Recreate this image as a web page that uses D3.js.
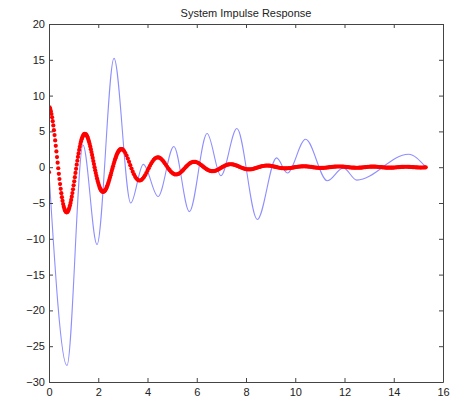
<!DOCTYPE html>
<html>
<head>
<meta charset="utf-8">
<script src="https://cdn.jsdelivr.net/npm/d3@7"></script>
<style>
  html, body { margin: 0; padding: 0; background: #fff; }
  svg { display: block; font-family: "Liberation Sans", Arial, sans-serif; }
</style>
</head>
<body>
<div id="chart"></div>
<script>
// blue line: turning points
const blueT = [0, 0.73, 1.38, 1.95, 2.64, 3.32, 3.83, 4.43, 5.07, 5.7, 6.42, 6.98, 7.63, 8.46, 9.24, 9.68, 10.42, 11.3, 11.95, 12.5, 14.6, 15.28];
const blueV = [-0.8, -27.7, 3.1, -10.8, 15.2, -5.0, 0.4, -4.1, 2.9, -6.2, 4.7, -1.2, 5.4, -7.3, 1.3, -0.8, 3.9, -1.9, -0.1, -1.8, 1.8, 0.1];

// red dots: first sample at t = 0
const redFirst = [0, -0.7];
// red dots, t = 0.025 .. 3.0, step 0.025
const redA = [
  8.37, 8.14, 7.83, 7.43, 6.97, 6.43, 5.83, 5.17, 4.48, 3.74,
  2.98, 2.20, 1.41, 0.63, -0.15, -0.92, -1.65, -2.35, -3.02, -3.63,
  -4.19, -4.69, -5.14, -5.51, -5.81, -6.04, -6.20, -6.29, -6.30, -6.24,
  -6.12, -5.93, -5.67, -5.36, -4.99, -4.57, -4.11, -3.61, -3.09, -2.53,
  -1.97, -1.39, -0.80, -0.22, 0.35, 0.90, 1.43, 1.93, 2.41, 2.85,
  3.25, 3.60, 3.91, 4.16, 4.36, 4.51, 4.61, 4.65, 4.64, 4.58,
  4.47, 4.31, 4.10, 3.85, 3.57, 3.25, 2.90, 2.52, 2.12, 1.71,
  1.29, 0.86, 0.43, 0.00, -0.41, -0.82, -1.21, -1.57, -1.91, -2.22,
  -2.50, -2.75, -2.96, -3.14, -3.27, -3.37, -3.42, -3.44, -3.41, -3.35,
  -3.25, -3.12, -2.96, -2.76, -2.54, -2.29, -2.03, -1.74, -1.45, -1.14,
  -0.82, -0.50, -0.19, 0.13, 0.43, 0.72, 1.00, 1.26, 1.51, 1.73,
  1.92, 2.10, 2.24, 2.36, 2.45, 2.50, 2.53, 2.53, 2.50, 2.45
];
// red dots, t = 3.05 .. 15.3, step 0.05
const redB = [
  2.26, 1.98, 1.62, 1.20, 0.75, 0.28, -0.18, -0.62, -1.00, -1.34,
  -1.59, -1.77, -1.86, -1.86, -1.79, -1.63, -1.41, -1.13, -0.82, -0.48,
  -0.14, 0.20, 0.51, 0.79, 1.03, 1.21, 1.32, 1.38, 1.37, 1.30,
  1.18, 1.00, 0.80, 0.56, 0.31, 0.05, -0.19, -0.42, -0.62, -0.79,
  -0.91, -0.99, -1.02, -1.00, -0.94, -0.85, -0.71, -0.55, -0.38, -0.19,
  0.00, 0.18, 0.34, 0.49, 0.60, 0.69, 0.74, 0.75, 0.74, 0.69,
  0.61, 0.51, 0.38, 0.25, 0.11, -0.03, -0.16, -0.28, -0.38, -0.46,
  -0.52, -0.55, -0.56, -0.54, -0.50, -0.44, -0.36, -0.26, -0.16, -0.06,
  0.04, 0.13, 0.22, 0.29, 0.35, 0.39, 0.41, 0.41, 0.39, 0.36,
  0.31, 0.25, 0.18, 0.11, 0.03, -0.04, -0.11, -0.17, -0.23, -0.26,
  -0.29, -0.30, -0.30, -0.29, -0.26, -0.22, -0.17, -0.12, -0.06, -0.01,
  0.04, 0.09, 0.14, 0.17, 0.20, 0.22, 0.22, 0.22, 0.21, 0.19,
  0.16, 0.12, 0.08, 0.04, 0.00, -0.04, -0.08, -0.11, -0.13, -0.15,
  -0.16, -0.17, -0.16, -0.15, -0.13, -0.11, -0.08, -0.06, -0.02, 0.01,
  0.03, 0.06, 0.08, 0.10, 0.11, 0.12, 0.12, 0.12,
  0.11, 0.10, 0.08, 0.06, 0.04, 0.01, -0.02, -0.04, -0.06, -0.08,
  -0.09, -0.10, -0.10, -0.10, -0.09, -0.08, -0.06, -0.04, -0.02, 0.00,
  0.02, 0.04, 0.06, 0.08, 0.09, 0.10, 0.10, 0.10, 0.10, 0.09,
  0.08, 0.06, 0.04, 0.02, 0.00, -0.02, -0.04, -0.05, -0.06, -0.07,
  -0.08, -0.08, -0.08, -0.07, -0.06, -0.05, -0.03, -0.01, 0.01, 0.03,
  0.05, 0.06, 0.07, 0.08, 0.08, 0.08, 0.07, 0.06, 0.05, 0.03,
  0.02, 0.00, -0.02, -0.03, -0.05, -0.06, -0.06, -0.07, -0.07, -0.06,
  -0.06, -0.05, -0.04, -0.02, -0.01, 0.01, 0.02, 0.04, 0.05, 0.05,
  0.06, 0.06, 0.06, 0.05, 0.04, 0.03, 0.02, 0.00, -0.01, -0.02,
  -0.03, -0.04, -0.04, -0.05, -0.04, -0.04, -0.03, -0.02
];

const xTicks = [0, 2, 4, 6, 8, 10, 12, 14, 16];
const yTicks = [-30, -25, -20, -15, -10, -5, 0, 5, 10, 15, 20];
const title = "System Impulse Response";

const margin = { top: 24, right: 15, bottom: 18, left: 49 };
const width = 458, height = 400;
const innerW = width - margin.left - margin.right;
const innerH = height - margin.top - margin.bottom;

const svg = d3.select("#chart")
  .append("svg")
  .attr("width", width)
  .attr("height", height);

const g = svg.append("g")
  .attr("transform", `translate(${margin.left},${margin.top})`);

const x = d3.scaleLinear().domain([0, 16]).range([0, innerW]);
const y = d3.scaleLinear().domain([-30, 20]).range([innerH, 0]);

const blue = blueT.map((t, i) => ({ t, v: blueV[i] }));
const red = [{ t: redFirst[0], v: redFirst[1] }]
  .concat(redA.map((v, i) => ({ t: 0.025 * (i + 1), v })))
  .concat(redB.map((v, i) => ({ t: 3.05 + 0.05 * i, v })));

// plot clip so nothing spills out of the box
svg.append("defs").append("clipPath").attr("id", "plot")
  .append("rect").attr("width", innerW).attr("height", innerH);

const plot = g.append("g").attr("clip-path", "url(#plot)");

plot.append("path")
  .datum(blue)
  .attr("fill", "none")
  .attr("stroke", "#8e8eff")
  .attr("stroke-width", 1.1)
  .attr("d", d3.line().x(d => x(d.t)).y(d => y(d.v)).curve(d3.curveMonotoneX));

plot.selectAll("circle")
  .data(red)
  .join("circle")
  .attr("cx", d => x(d.t))
  .attr("cy", d => y(d.v))
  .attr("r", 2.1)
  .attr("fill", "#ff0000");

// MATLAB-style box, ticks inside on all sides
const axisStyle = sel => {
  sel.selectAll(".domain").attr("stroke", "#444");
  sel.selectAll(".tick line").attr("stroke", "#444");
  sel.selectAll("text").attr("fill", "#222").attr("font-size", 11);
};

g.append("g")
  .attr("transform", `translate(0,${innerH})`)
  .call(d3.axisBottom(x).tickValues(xTicks).tickSize(-4).tickSizeOuter(0).tickPadding(6).tickFormat(d3.format("d")))
  .call(axisStyle)
  .attr("font-family", null);

g.append("g")
  .call(d3.axisTop(x).tickValues(xTicks).tickSize(-4).tickSizeOuter(0).tickFormat(""))
  .call(axisStyle);

g.append("g")
  .call(d3.axisLeft(y).tickValues(yTicks).tickSize(-4).tickSizeOuter(0).tickPadding(4).tickFormat(d3.format("d")))
  .call(axisStyle)
  .attr("font-family", null);

g.append("g")
  .attr("transform", `translate(${innerW},0)`)
  .call(d3.axisRight(y).tickValues(yTicks).tickSize(-4).tickSizeOuter(0).tickFormat(""))
  .call(axisStyle);

svg.append("text")
  .attr("x", margin.left + innerW / 2)
  .attr("y", 17)
  .attr("text-anchor", "middle")
  .attr("font-size", 11)
  .attr("fill", "#222")
  .text(title);
</script>
</body>
</html>
